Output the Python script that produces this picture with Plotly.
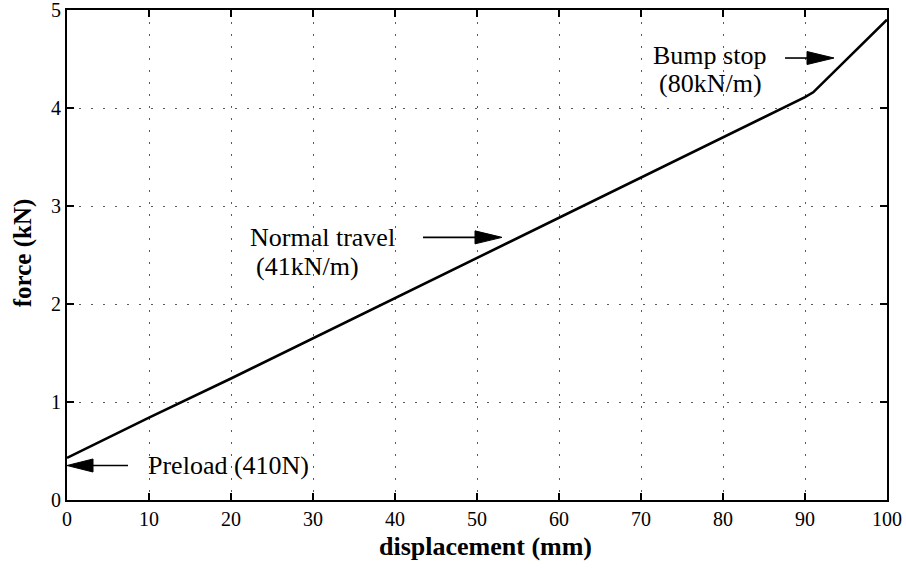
import plotly.graph_objects as go

displacement_mm = [0, 10, 20, 30, 40, 50, 60, 70, 80, 90, 91, 100]
force_kN = [0.43, 0.84, 1.24, 1.65, 2.06, 2.47, 2.88, 3.29, 3.70, 4.11, 4.16, 4.90]

x_ticks = [0, 10, 20, 30, 40, 50, 60, 70, 80, 90, 100]
y_ticks = [0, 1, 2, 3, 4, 5]

FONT = "Liberation Serif, Times New Roman, serif"

fig = go.Figure()
fig.add_trace(go.Scatter(x=displacement_mm, y=force_kN, mode="lines",
                         line=dict(color="black", width=2.6), showlegend=False))

axis_common = dict(showline=True, linecolor="black", linewidth=2, mirror="ticks",
                   ticks="inside", ticklen=7, tickwidth=1.5, tickcolor="black",
                   showgrid=True, gridcolor="rgb(90,90,90)", gridwidth=1, griddash="1.5px,10.5px",
                   zeroline=False, automargin=False, ticklabeloverflow="allow",
                   tickfont=dict(family=FONT, size=20, color="black"))

fig.update_xaxes(range=[0, 100], tickvals=x_ticks, **axis_common)
fig.update_yaxes(range=[0, 5], tickvals=y_ticks, **axis_common)

# axis titles
fig.add_annotation(xref="paper", yref="paper", x=0.5098, y=-0.095, text="<b>displacement (mm)</b>",
                   showarrow=False, font=dict(family=FONT, size=26, color="black"),
                   xanchor="center", yanchor="middle")
fig.add_annotation(xref="paper", yref="paper", x=-0.0537, y=0.5056, text="<b>force (kN)</b>",
                   showarrow=False, textangle=-90, font=dict(family=FONT, size=25, color="black"),
                   xanchor="center", yanchor="middle")

tfont = dict(family=FONT, size=26, color="black")

# arrows: (tip x, tip y, tail offset px, head-base offset px)
arrows = [(93.54, 4.51, -49, -27), (53.05, 2.68, -79, -27), (0.0, 0.352, 61, 26)]
for tx, ty, tail, base in arrows:
    fig.add_shape(type="line", xref="x", yref="y", xsizemode="pixel", xanchor=tx,
                  x0=tail, x1=base, y0=ty, y1=ty, line=dict(color="black", width=1.6))
    fig.add_shape(type="path", xref="x", yref="y", xsizemode="pixel", ysizemode="pixel",
                  xanchor=tx, yanchor=ty,
                  path=f"M {base},-6.5 L 0,0 L {base},6.5 Z",
                  fillcolor="black", line=dict(color="black", width=1))

# labels: (x, y, text, yanchor, yshift)
labels = [(78.4, 4.408, "Bump stop", "bottom", -3), (78.5, 4.408, "(80kN/m)", "top", 0),
          (31.2, 2.538, "Normal travel", "bottom", -2), (29.3, 2.538, "(41kN/m)", "top", 0),
          (19.75, 0.355, "Preload (410N)", "middle", 0)]
for lx, ly, txt, ya, ys in labels:
    fig.add_annotation(x=lx, y=ly, text=txt, showarrow=False, font=tfont,
                       xanchor="center", yanchor=ya, borderpad=0, yshift=ys)

fig.update_layout(width=906, height=570, paper_bgcolor="white", plot_bgcolor="white",
                  margin=dict(l=67, r=19, t=10, b=70), font=dict(family=FONT, color="black"))

fig.write_html("out.html")
